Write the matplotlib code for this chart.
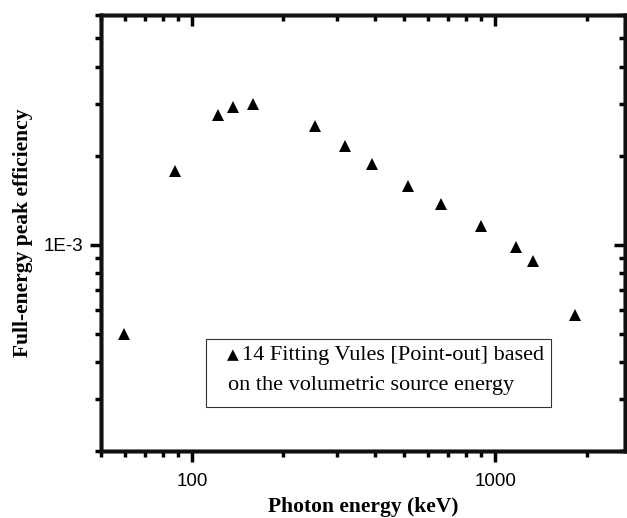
import matplotlib
matplotlib.use('Agg')
import matplotlib.pyplot as plt
from matplotlib.ticker import FixedLocator, FixedFormatter, LogLocator, NullFormatter
from matplotlib.patches import Rectangle

# photon energy (keV) and full-energy peak efficiency
energy = [59.5, 88.0, 121.8, 136.5, 159.0, 255.0, 320.0, 391.7, 514.0,
          661.7, 898.0, 1173.2, 1332.5, 1836.0]
efficiency = [5.0e-4, 1.78e-3, 2.76e-3, 2.93e-3, 3.0e-3, 2.52e-3, 2.16e-3,
              1.88e-3, 1.58e-3, 1.37e-3, 1.16e-3, 9.8e-4, 8.8e-4, 5.8e-4]

x_major = [100, 1000]
x_major_labels = ['100', '1000']
y_major = [1e-3]
y_major_labels = ['1E-3']

xlim = (50, 2680)
ylim = (2e-4, 6e-3)

sans = 'Liberation Sans'
serif = 'Liberation Serif'
lw = 2.5

fig = plt.figure(figsize=(6.27, 5.18), dpi=100)
ax = fig.add_axes([0.161, 0.1293, 0.836, 0.8417])

ax.plot(energy, efficiency, linestyle='none', marker='^', color='black',
        markersize=8, markeredgewidth=0)

ax.set_xscale('log')
ax.set_yscale('log')
ax.set_xlim(xlim)
ax.set_ylim(ylim)


def setup_ticks(axis, major, labels):
    axis.set_major_locator(FixedLocator(major))
    axis.set_major_formatter(FixedFormatter(labels))
    axis.set_minor_locator(LogLocator(base=10, subs=range(2, 10), numticks=20))
    axis.set_minor_formatter(NullFormatter())


setup_ticks(ax.xaxis, x_major, x_major_labels)
setup_ticks(ax.yaxis, y_major, y_major_labels)
ax.tick_params(which='both', direction='out', width=lw, top=False, right=False)
ax.tick_params(which='major', length=8)
ax.tick_params(which='minor', length=4.5)
ax.tick_params(axis='x', which='major', pad=8)
ax.tick_params(axis='y', which='major', pad=5)
for lab in ax.get_xticklabels() + ax.get_yticklabels():
    lab.set_fontfamily(sans)
    lab.set_fontsize(13.5)

# mirrored ticks pointing inward on top and right
axt = ax.twiny()
axt.set_xscale('log')
axt.set_xlim(xlim)
setup_ticks(axt.xaxis, x_major, x_major_labels)
axt.tick_params(axis='x', which='both', direction='in', width=lw, labeltop=False)
axt.tick_params(axis='x', which='major', length=8)
axt.tick_params(axis='x', which='minor', length=4.5)

axr = ax.twinx()
axr.set_yscale('log')
axr.set_ylim(ylim)
setup_ticks(axr.yaxis, y_major, y_major_labels)
axr.tick_params(axis='y', which='both', direction='in', width=lw, labelright=False)
axr.tick_params(axis='y', which='major', length=8)
axr.tick_params(axis='y', which='minor', length=4.5)

for a in (ax, axt, axr):
    for s in a.spines.values():
        s.set_linewidth(lw)
        s.set_color('#111111')

ax.set_xlabel('Photon energy (keV)', fontfamily=serif, fontweight='bold', fontsize=15.5)
ax.set_ylabel('Full-energy peak efficiency', fontfamily=serif, fontweight='bold', fontsize=15.5)
ax.xaxis.set_label_coords(0.5, -0.105)
ax.yaxis.set_label_coords(-0.13, 0.5)

# legend box
fig.add_artist(Rectangle((0.328, 0.2137), 0.550, 0.1319, transform=fig.transFigure,
                         facecolor='white', edgecolor='#333333', linewidth=0.8))
fig.text(0.362, 0.306, '\u25b2', fontfamily=['DejaVu Sans'], fontsize=11,
         ha='left', va='baseline')
fig.text(0.3855, 0.305, '14 Fitting Vules [Point-out] based', fontfamily=serif,
         fontsize=16, ha='left', va='baseline')
fig.text(0.3636, 0.248, 'on the volumetric source energy', fontfamily=serif,
         fontsize=16, ha='left', va='baseline')

fig.savefig('out.png', dpi=100)
